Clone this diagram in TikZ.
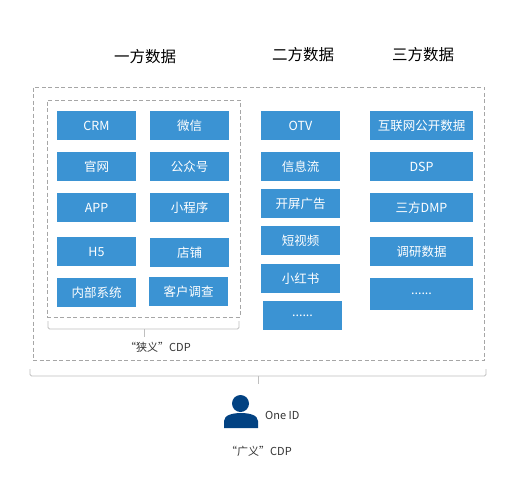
\documentclass[tikz,border=0pt]{standalone}
\usepackage{fontspec}
\setmainfont{Noto Sans CJK SC}
\definecolor{boxblue}{HTML}{3B93D3}
\definecolor{idblue}{HTML}{024282}
\definecolor{dashgray}{HTML}{A6A6A6}
\definecolor{bracegray}{HTML}{BFBFBF}
\definecolor{labeltext}{HTML}{333333}
\newcommand{\moredots}{......}
\tikzset{
	databox/.style={fill=boxblue, text=white, inner sep=0, outer sep=0, font=\fontsize{12.5}{14}\selectfont},
	titlelabel/.style={text=black, inner sep=0, font=\fontsize{15.5}{18}\selectfont},
	smalllabel/.style={text=labeltext, inner sep=0, font=\fontsize{11}{13}\selectfont},
	dashbox/.style={draw=dashgray, dashed, dash pattern=on 4pt off 2.5pt, line width=0.7pt, inner sep=0},
	bracket/.style={draw=bracegray, line width=0.9pt, rounded corners=1.5pt},
}
\begin{document}
\begin{tikzpicture}[x=1pt,y=-1pt]
	\useasboundingbox (0,0) rectangle (527,483);
	\node[titlelabel] (first) at (145,57) {一方数据};
	\node[titlelabel] (second) at (303,55) {二方数据};
	\node[titlelabel] (third) at (423,55) {三方数据};
	% dashed frames
	\node[dashbox, minimum width=451.5pt, minimum height=273pt] (outer) at (258.75,223.5) {};
	\node[dashbox, minimum width=193pt, minimum height=217pt] (inner) at (143.5,208.5) {};
	% data boxes: name/centre x/centre y/width/height/text
	\foreach \name/\x/\y/\w/\h/\txt in {
		crm/96.5/125.5/79/29/CRM, wechat/189.5/125.5/79/29/微信,
		site/96.5/166.5/79/29/官网, account/189.5/166.5/79/29/公众号,
		app/96.5/207.5/79/29/APP, mini/189.5/207.5/79/29/小程序,
		hfive/96.5/251.5/79/29/H5, shop/189.5/252.5/79/29/店铺,
		system/96.5/292.5/79/29/内部系统, survey/188.5/291.5/79/29/客户调查,
		otv/300.5/125.5/79/29/OTV, feed/300.5/166.5/79/29/信息流,
		splash/300.5/203.5/79/29/开屏广告, video/300.5/240.5/79/29/短视频,
		redbook/300.5/278.5/79/29/小红书, moretwo/302.5/315.5/79/29/\moredots,
		public/421.5/125.5/103/29/互联网公开数据, dsp/421.5/166.5/103/29/DSP,
		dmp/421.5/207.5/103/29/三方DMP, research/421.5/251.5/103/29/调研数据,
		morethree/421.5/294/103/32/\moredots} {
		\node[databox, minimum width=\w pt, minimum height=\h pt] (\name) at (\x,\y) {\raisebox{-2pt}{\txt}};
	}
	% brackets below the frames
	\coordinate (narrowl) at (48,321);
	\coordinate (narrowr) at (239,321);
	\coordinate (narrowm) at (144,329);
	\coordinate (narrowt) at (144,337);
	\draw[bracket] (narrowl) |- (narrowr |- narrowm) -- (narrowr);
	\draw[bracket] (narrowm) -- (narrowt);
	\node[smalllabel] (narrow) at (158,347) {“狭义”CDP};
	\coordinate (widel) at (30,369);
	\coordinate (wider) at (486,369);
	\coordinate (widem) at (258,376);
	\coordinate (widet) at (258,384);
	\draw[bracket] (widel) |- (wider |- widem) -- (wider);
	\draw[bracket] (widem) -- (widet);
	% person icon
	\fill[idblue] (240.5,403.5) circle (8.5);
	\fill[idblue] (224,428) -- (224,421) .. controls (224,415) and (233,413) .. (241,413) .. controls (249,413) and (258,415) .. (258,421) -- (258,428) -- cycle;
	\node[smalllabel, anchor=west] (oneid) at (265,415) {One ID};
	\node[smalllabel] (wide) at (259,451) {“广义”CDP};
\end{tikzpicture}
\end{document}
